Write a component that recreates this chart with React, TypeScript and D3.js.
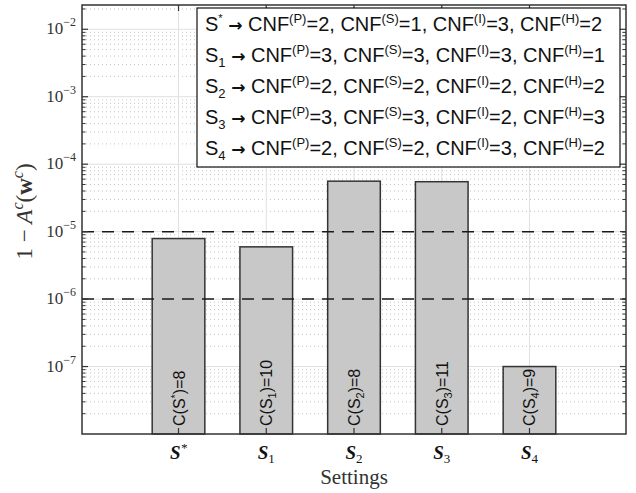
import React from "react";
import * as d3 from "d3";

const categories = ["S*", "S1", "S2", "S3", "S4"];
const tickMain = ["S", "S", "S", "S", "S"];
const tickSup = ["*", "", "", "", ""];
const tickSub = ["", "1", "2", "3", "4"];
const values = [7.9e-6, 5.95e-6, 5.6e-5, 5.5e-5, 1.0e-7];
const costLabelSub = ["", "1", "2", "3", "4"];
const costLabelSup = ["*", "", "", "", ""];
const costValues = [8, 10, 8, 11, 9];
const thresholds = [1e-5, 1e-6];
const yTickExps = [-7, -6, -5, -4, -3, -2];
const legendSub = ["", "1", "2", "3", "4"];
const legendSup = ["*", "", "", "", ""];
const cnfP = [2, 3, 2, 3, 2];
const cnfS = [1, 3, 2, 3, 2];
const cnfI = [3, 3, 2, 2, 3];
const cnfH = [2, 1, 2, 3, 2];

const W = 636, H = 493;
const L = 82, R = 626, T = 5, B = 434;

export default function App() {
  const x = d3.scaleLinear().domain([-0.1, 6.1]).range([L, R]);
  const y = d3.scaleLog().domain([1e-8, Math.pow(10, -1.64)]).range([B, T]);
  const bw = x(0.6) - x(0);
  const minors: number[] = [];
  for (let e = -8; e <= -2; e++) {
    for (let m = 2; m <= 9; m++) {
      const v = m * Math.pow(10, e);
      if (v <= y.domain()[1]) minors.push(v);
    }
  }
  const sans = "Liberation Sans, Arial, sans-serif";
  const serif = "Liberation Serif, Times New Roman, serif";
  const frame = "#333";
  return (
    <svg width={W} height={H} style={{ position: "absolute", left: 0, top: 0, background: "#fff" }}>
      <rect x={0} y={0} width={W} height={H} fill="#fff" />
      {/* minor grid */}
      {minors.map((v, i) => (
        <line key={"mg" + i} x1={L} x2={R} y1={y(v)} y2={y(v)} stroke="#c4c4c4" strokeWidth={1} strokeDasharray="1,3" />
      ))}
      {/* major grid */}
      {yTickExps.map((e) => (
        <line key={"Mg" + e} x1={L} x2={R} y1={y(Math.pow(10, e))} y2={y(Math.pow(10, e))} stroke="#e0e0e0" strokeWidth={1} />
      ))}
      {categories.map((c, i) => (
        <line key={"vg" + i} x1={x(i + 1)} x2={x(i + 1)} y1={T} y2={B} stroke="#e0e0e0" strokeWidth={1} />
      ))}
      {/* bars */}
      {values.map((v, i) => (
        <rect key={"b" + i} x={x(i + 1) - bw / 2} y={y(v)} width={bw} height={B - y(v)} fill="#c8c8c8" stroke="#333" strokeWidth={1.5} />
      ))}
      {/* thresholds */}
      {thresholds.map((t, i) => (
        <line key={"t" + i} x1={L} x2={R} y1={y(t)} y2={y(t)} stroke="#1a1a1a" strokeWidth={1.5} strokeDasharray="12,8" />
      ))}
      {/* bar labels */}
      {costValues.map((c, i) => (
        <text key={"cl" + i} transform={`translate(${x(i + 1) + 6},${B - 8}) rotate(-90)`} fontFamily={sans} fontSize={16} fill="#111">
          C(S
          {costLabelSup[i] && <tspan fontSize={11} dy={-6}>{costLabelSup[i]}</tspan>}
          {costLabelSub[i] && <tspan fontSize={11} dy={4}>{costLabelSub[i]}</tspan>}
          <tspan dy={costLabelSup[i] ? 6 : -4}>)={c}</tspan>
        </text>
      ))}
      {/* frame */}
      <rect x={L} y={T} width={R - L} height={B - T} fill="none" stroke={frame} strokeWidth={1.5} />
      {/* y ticks */}
      {yTickExps.map((e) => (
        <g key={"yt" + e}>
          <line x1={L} x2={L + 6} y1={y(Math.pow(10, e))} y2={y(Math.pow(10, e))} stroke={frame} strokeWidth={1.2} />
          <line x1={R} x2={R - 6} y1={y(Math.pow(10, e))} y2={y(Math.pow(10, e))} stroke={frame} strokeWidth={1.2} />
          <text x={L - 6} y={y(Math.pow(10, e)) + 5} textAnchor="end" fontFamily={serif} fontSize={17} fill="#333">
            10<tspan fontSize={12} dy={-8}>{"\u2212" + Math.abs(e)}</tspan>
          </text>
        </g>
      ))}
      {minors.map((v, i) => (
        <g key={"mt" + i}>
          <line x1={L} x2={L + 3.5} y1={y(v)} y2={y(v)} stroke={frame} strokeWidth={1} />
          <line x1={R} x2={R - 3.5} y1={y(v)} y2={y(v)} stroke={frame} strokeWidth={1} />
        </g>
      ))}
      {/* x ticks */}
      {categories.map((c, i) => (
        <g key={"xt" + i}>
          <line x1={x(i + 1)} x2={x(i + 1)} y1={B} y2={B - 6} stroke={frame} strokeWidth={1.2} />
          <line x1={x(i + 1)} x2={x(i + 1)} y1={T} y2={T + 6} stroke={frame} strokeWidth={1.2} />
          <text x={x(i + 1)} y={B + 25} textAnchor="middle" fontFamily={serif} fontStyle="italic" fontWeight="bold" fontSize={19} fill="#111">
            {tickMain[i]}
            {tickSup[i] && <tspan fontSize={13} fontWeight="normal" dy={-7}>{tickSup[i]}</tspan>}
            {tickSub[i] && <tspan fontSize={13} fontStyle="normal" fontWeight="normal" dy={4}>{tickSub[i]}</tspan>}
          </text>
        </g>
      ))}
      <text x={(L + R) / 2} y={B + 50} textAnchor="middle" fontFamily={serif} fontSize={21} fill="#333">Settings</text>
      {/* y label */}
      <text transform={`translate(32,${(T + B) / 2 - 8}) rotate(-90)`} textAnchor="middle" fontFamily={serif} fontSize={23} fill="#333">
        {"1 \u2212 "}
        <tspan fontStyle="italic">A</tspan>
        <tspan fontStyle="italic" fontSize={16} dy={-9}>c</tspan>
        <tspan dy={9}>(</tspan>
        <tspan fontWeight="bold">w</tspan>
        <tspan fontStyle="italic" fontSize={16} dy={-9}>c</tspan>
        <tspan dy={9}>)</tspan>
      </text>
      {/* legend */}
      <rect x={197} y={8} width={423} height={159} fill="#fff" stroke="#111" strokeWidth={1.2} />
      {cnfP.map((p, i) => {
        const ty = 31 + i * 31;
        const vals = [["P", p], ["S", cnfS[i]], ["I", cnfI[i]], ["H", cnfH[i]]];
        return (
          <text key={"lg" + i} x={205} y={ty} fontFamily={sans} fontSize={20} fill="#111">
            S
            {legendSup[i] && <tspan fontSize={11} dy={-9}>{legendSup[i]}</tspan>}
            {legendSub[i] && <tspan fontSize={13} dy={5}>{legendSub[i]}</tspan>}
            <tspan dy={legendSup[i] ? 9 : legendSub[i] ? -5 : 0}>{" "}</tspan>
            <tspan fontFamily="DejaVu Sans" fontWeight="bold" fontSize={17}>{"\u2192"}</tspan>
            <tspan>{" "}</tspan>
            {vals.map((v, k) => (
              <React.Fragment key={k}>
                <tspan>{"CNF"}</tspan>
                <tspan fontSize={13} dy={-8}>{"(" + v[0] + ")"}</tspan>
                <tspan dy={8}>{"=" + v[1] + (k < 3 ? ", " : "")}</tspan>
              </React.Fragment>
            ))}
          </text>
        );
      })}
    </svg>
  );
}
